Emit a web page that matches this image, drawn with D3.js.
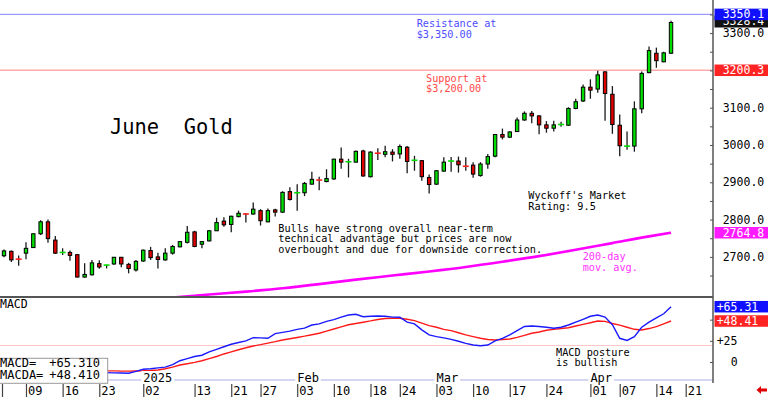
<!DOCTYPE html>
<html><head><meta charset="utf-8">
<script src="https://cdn.jsdelivr.net/npm/d3@7"></script>
<style>
html,body{margin:0;padding:0;background:#fff;}
svg{display:block;}
text{font-family:"DejaVu Sans Mono",monospace;}
</style></head><body>
<svg id="c" width="768" height="397"></svg>
<script>
// ---------------- DATA ----------------
const dates = [
 "2024-12-04","2024-12-05","2024-12-06","2024-12-09","2024-12-10","2024-12-11","2024-12-12","2024-12-13",
 "2024-12-16","2024-12-17","2024-12-18","2024-12-19","2024-12-20","2024-12-23","2024-12-24","2024-12-26",
 "2024-12-27","2024-12-30","2024-12-31",
 "2025-01-02","2025-01-03","2025-01-06","2025-01-07","2025-01-08","2025-01-09","2025-01-10","2025-01-13",
 "2025-01-14","2025-01-15","2025-01-16","2025-01-17","2025-01-21","2025-01-22","2025-01-23","2025-01-24",
 "2025-01-27","2025-01-28","2025-01-29","2025-01-30","2025-01-31",
 "2025-02-03","2025-02-04","2025-02-05","2025-02-06","2025-02-07","2025-02-10","2025-02-11","2025-02-12",
 "2025-02-13","2025-02-14","2025-02-18","2025-02-19","2025-02-20","2025-02-21","2025-02-24","2025-02-25",
 "2025-02-26","2025-02-27","2025-02-28",
 "2025-03-03","2025-03-04","2025-03-05","2025-03-06","2025-03-07","2025-03-10","2025-03-11","2025-03-12",
 "2025-03-13","2025-03-14","2025-03-17","2025-03-18","2025-03-19","2025-03-20","2025-03-21","2025-03-24",
 "2025-03-25","2025-03-26","2025-03-27","2025-03-28","2025-03-31",
 "2025-04-01","2025-04-02","2025-04-03","2025-04-04","2025-04-07","2025-04-08","2025-04-09","2025-04-10",
 "2025-04-11","2025-04-14","2025-04-15","2025-04-16"];
const futureDates = ["2025-04-17","2025-04-21"];

const open = [2703,2715,2696,2710,2725,2762,2794,2745,2710,2712,
 2706,2646,2652,2682,2676,2681,2699,2680,2665,2689,
 2717,2700,2692,2710,2727,2739,2767,2734,2743,2770,
 2796,2787,2808,2817,2815,2824,2794,2826,2820,2875,
 2869,2872,2895,2908,2902,2909,2962,2953,2954,2984,
 2915,2981,2975,2981,2976,2994,2957,2958,2913,2895,
 2930,2955,2957,2946,2946,2918,2949,2970,3028,3021,
 3036,3067,3085,3078,3054,3045,3053,3053,3098,3118,
 3155,3150,3196,3136,3053,2995,2997,3097,3194,3246,
 3223,3246];
const high = [2720,2717,2704,2739,2763,2798,2800,2756,2723,2717,
 2708,2683,2692,2691,2679,2700,2700,2684,2692,2720,
 2727,2711,2723,2732,2742,2783,2770,2742,2772,2805,
 2806,2810,2824,2818,2846,2828,2830,2829,2876,2887,
 2895,2901,2928,2915,2935,2963,2993,2963,2985,2987,
 2983,2991,2998,2989,3001,2997,2971,2960,2921,2933,
 2967,2968,2969,2967,2954,2954,2976,3029,3044,3037,
 3074,3090,3091,3080,3064,3065,3062,3101,3124,3162,
 3176,3199,3198,3158,3082,3036,3117,3197,3264,3261,
 3250,3333];
const low = [2699,2686,2676,2694,2724,2759,2738,2708,2705,2690,
 2645,2644,2650,2668,2669,2679,2672,2656,2661,2687,
 2692,2669,2690,2706,2726,2736,2726,2723,2741,2770,
 2781,2766,2806,2792,2813,2784,2793,2808,2818,2851,
 2824,2863,2894,2879,2900,2907,2936,2913,2953,2915,
 2913,2960,2967,2956,2963,2924,2931,2904,2870,2893,
 2928,2928,2926,2931,2912,2915,2936,2967,3015,3019,
 3035,3065,3058,3029,3033,3036,3049,3051,3096,3115,
 3124,3140,3065,3030,2970,2987,2982,3085,3192,3207,
 3222,3244];
const close = [2716,2692,2694,2723,2762,2794,2749,2710,2712,2704,
 2646,2653,2684,2673,2678,2699,2681,2669,2688,2718,
 2698,2693,2710,2728,2741,2766,2728,2741,2770,2792,
 2786,2809,2817,2815,2828,2797,2824,2820,2873,2854,
 2872,2897,2908,2906,2910,2962,2954,2955,2983,2917,
 2981,2978,2982,2975,2996,2956,2959,2915,2894,2931,
 2954,2957,2947,2943,2922,2949,2969,3028,3021,3035,
 3067,3085,3078,3054,3045,3054,3055,3098,3116,3155,
 3147,3188,3138,3055,2998,2997,3097,3192,3253,3226,
 3247,3328.4];

const maDates = ["2024-12-31","2025-01-08","2025-01-15","2025-01-23","2025-01-30","2025-02-06","2025-02-13",
 "2025-02-21","2025-02-28","2025-03-07","2025-03-14","2025-03-21","2025-03-28","2025-04-04","2025-04-11","2025-04-16"];
const ma200 = [2583,2591,2599,2607,2616,2627,2639,2650,2661,2673,2687,2702,2719,2737,2755,2764.8];

const macd = [-5,-6,-7,-6,-4,-2,-3,-5,-7,-8,
 -11,-12,-12,-12.5,-12.6,-12.8,-13,-13.3,-11,-8.6,
 -8,-7,-6,-3,1.5,4,6.5,8,12,15,
 18,21,23,25,28.7,28.5,28,33.5,35,36.5,
 38.5,40,43.7,45,48,50,53,55.5,56.3,53.5,
 54,54.3,54,53,52.8,47,45,38,32,30,
 28.5,26.8,24.5,22,20.1,19.2,20,25,28,32,
 37,42,42.5,42,41,39.8,41,43.7,47,50.4,
 54,55.5,53,44,28,25.5,30,41,47,52,
 57,65.31];
const macdSignal = [-2,-3,-4,-4.5,-4.5,-4,-4,-4.5,-5,-6,
 -7,-8,-9,-9.8,-10.3,-10.5,-10.8,-10.8,-10.6,-10.4,
 -10,-9.4,-8,-6,-3.5,-2,-0.5,1.5,4,6.5,
 9.5,12,14.5,16.8,18.9,20.5,22.3,24,26,27.5,
 29,30.5,32.2,34,36.5,39,41.5,44,45.5,47,
 48.5,50.2,51.4,51.6,51.6,50.5,48.8,46,43,41,
 38.5,37,34.5,32,29.9,28,26.5,26,26.5,27.2,
 29,31.5,33.9,35.5,37.5,38.5,39.5,40.5,42.5,44.5,
 46.4,48.4,48,45.5,43.5,41,38.6,37.8,39.5,41.7,
 45,48.41];

const tickDates = ["2024-12-09","2024-12-16","2024-12-23","2025-01-02","2025-01-13","2025-01-21","2025-01-27",
 "2025-02-03","2025-02-10","2025-02-18","2025-02-24","2025-03-03","2025-03-10","2025-03-17","2025-03-24",
 "2025-04-01","2025-04-07","2025-04-14","2025-04-21"];
const tickLabels = ["09","16","23","02","13","21","27","03","10","18","24","03","10","17","24","01","07","14","21"];
const monthDates = ["2025-01-02","2025-02-03","2025-03-03","2025-04-01"];
const monthLabels = ["2025","Feb","Mar","Apr"];
const priceTicks = [2650,2700,2750,2800,2850,2900,2950,3000,3050,3100,3150,3200,3250,3300,3350];
const macdTicks = [0,25,50];
const resistance = 3350.1, support = 3200.3;
const lastClose = 3328.4, lastMA = 2764.8, lastMacd = 65.31, lastSignal = 48.41;
const macdRefLevel = 19.5;

// ---------------- CHART ----------------
const svg = d3.select("#c");
const AX = 713;
const x = d3.scalePoint().domain(dates.concat(futureDates)).range([4, 4 + 93 * 7.33]);
const y = d3.scaleLinear().domain([2592.5, 3388.7]).range([297, 0]);
const ym = d3.scaleLinear().domain([0, 65.31]).range([362, 306.7]);

const defs = svg.append("defs");
defs.append("clipPath").attr("id","clipP").append("rect").attr("x",0).attr("y",0).attr("width",AX).attr("height",296);
defs.append("clipPath").attr("id","clipM").append("rect").attr("x",0).attr("y",298).attr("width",AX).attr("height",82);

svg.append("rect").attr("width",768).attr("height",397).attr("fill","#fff");

// resistance / support lines
svg.append("line").attr("x1",0).attr("x2",AX).attr("y1",y(resistance)).attr("y2",y(resistance))
  .attr("stroke","#9a9aff").attr("stroke-width",1.4);
svg.append("line").attr("x1",0).attr("x2",AX).attr("y1",y(support)).attr("y2",y(support))
  .attr("stroke","#ffaaaa").attr("stroke-width",1.4);

const pg = svg.append("g").attr("clip-path","url(#clipP)");
// 200-day MA
pg.append("path").datum(maDates.map((d,i)=>[d,ma200[i]]))
  .attr("d", d3.line().x(d=>x(d[0])).y(d=>y(d[1])).curve(d3.curveMonotoneX))
  .attr("fill","none").attr("stroke","#ff00ff").attr("stroke-width",2.6);

// candles
const data = dates.map((d,i)=>({d, o:open[i], h:high[i], l:low[i], c:close[i]}));
pg.selectAll("line.wick").data(data).join("line").attr("class","wick")
  .attr("x1",d=>x(d.d)).attr("x2",d=>x(d.d)).attr("y1",d=>y(d.h)).attr("y2",d=>y(d.l))
  .attr("stroke","#1a1a1a").attr("stroke-width",1.3);
pg.selectAll("rect.body").data(data.filter(d=>Math.abs(d.o-d.c)>3.5)).join("rect").attr("class","body")
  .attr("x",d=>x(d.d)-1.7).attr("width",3.4)
  .attr("y",d=>y(Math.max(d.o,d.c))).attr("height",d=>Math.abs(y(d.o)-y(d.c)))
  .attr("fill",d=>d.c>d.o?"#00dd00":"#e00000").attr("stroke","#000").attr("stroke-width",1);
pg.selectAll("line.doji").data(data.filter(d=>Math.abs(d.o-d.c)<=3.5)).join("line").attr("class","doji")
  .attr("x1",d=>x(d.d)-3).attr("x2",d=>x(d.d)+3).attr("y1",d=>y(d.c)).attr("y2",d=>y(d.c))
  .attr("stroke",d=>d.c>=d.o?"#00dd00":"#ff2020").attr("stroke-width",1.6);

// annotations
function txt(x0, ys, lines, size, fill){
  lines.forEach((t,i)=>svg.append("text").attr("x",x0).attr("y",ys[i]).attr("font-size",size)
    .attr("fill",fill).attr("xml:space","preserve").style("white-space","pre").text(t));
}
txt(110,[134],["June  Gold"],"20.4px","#000");
txt(416.7,[27.3,37.8],["Resistance at","$3,350.00"],"10.2px","#4d4dff");
txt(426,[81.5,92],["Support at","$3,200.00"],"10.2px","#ff4a4a");
txt(528.3,[199,209.5],["Wyckoff's Market","Rating: 9.5"],"10.2px","#000");
txt(278.3,[231.5,242,252.5],["Bulls have strong overall near-term","technical advantage but prices are now","overbought and due for downside correction."],"10.2px","#000");
txt(582.7,[260,270.7],["200-day","mov. avg."],"10.2px","#ff33ff");

// separator
svg.append("line").attr("x1",0).attr("x2",AX).attr("y1",297).attr("y2",297).attr("stroke","#555").attr("stroke-width",2);

// MACD panel
svg.append("line").attr("x1",0).attr("x2",AX).attr("y1",ym(macdRefLevel)).attr("y2",ym(macdRefLevel))
  .attr("stroke","#ffc8c8").attr("stroke-width",1);
svg.append("line").attr("x1",0).attr("x2",AX).attr("y1",380).attr("y2",380).attr("stroke","#c8c8f0").attr("stroke-width",1.5);
const mg = svg.append("g").attr("clip-path","url(#clipM)");
const mline = d3.line().x((d,i)=>x(dates[i])).y(d=>ym(d));
mg.append("path").datum(macdSignal).attr("d",mline).attr("fill","none").attr("stroke","#ff1a1a").attr("stroke-width",1.4);
mg.append("path").datum(macd).attr("d",mline).attr("fill","none").attr("stroke","#1a1aff").attr("stroke-width",1.4);

txt(0,[308.3],["MACD"],"11.5px","#000");
txt(556,[355.5,366],["MACD posture","is bullish"],"10.2px","#000");

// month labels on lavender line
monthDates.forEach((d,i)=>{
  const t = svg.append("text").attr("x",x(d)).attr("y",381.7).attr("font-size","12px").attr("fill","#000").text(monthLabels[i]);
  const w = t.node().getComputedTextLength();
  svg.insert("rect", function(){return t.node();}).attr("x",x(d)-2).attr("y",371).attr("width",w+4).attr("height",11).attr("fill","#fff");
});

// value box
svg.append("rect").attr("x",-1).attr("y",358.3).attr("width",108.7).attr("height",25).attr("fill","#fff").attr("stroke","#999").attr("stroke-width",1);
txt(0,[366.7,379.3],["MACD=","MACDA="],"12px","#000");
txt(49.3,[366.7,379.3],["+"+lastMacd.toFixed(3),"+"+lastSignal.toFixed(3)],"12px","#000");

// right axis
svg.append("line").attr("x1",AX).attr("x2",AX).attr("y1",0).attr("y2",383).attr("stroke","#555").attr("stroke-width",1.5);
const pa = svg.append("g").attr("transform",`translate(${AX},0)`)
  .call(d3.axisRight(y).tickValues(priceTicks).tickSize(-3).tickSizeOuter(0).tickPadding(9.7)
    .tickFormat(d=> d%100 ? "" : d.toFixed(1)));
pa.select(".domain").remove();
pa.selectAll("line").attr("stroke","#555");
pa.selectAll("text").attr("font-family","DejaVu Sans Mono").attr("font-size","11.5px").attr("fill","#000");

const ma = svg.append("g").attr("transform",`translate(${AX},0)`)
  .call(d3.axisRight(ym).tickValues(macdTicks).tickSize(-3).tickSizeOuter(0).tickFormat(""));
ma.select(".domain").remove();
ma.selectAll("line").attr("stroke","#555");
txt(716.7,[ym(25)+4],["+25"],"11.5px","#000");
txt(730.8,[ym(0)+4],["0"],"11.5px","#000");

// value tags
function tag(cy, label, bg, tx, h){
  svg.append("rect").attr("x",714.5).attr("y",cy-h/2).attr("width",54).attr("height",h).attr("fill",bg);
  svg.append("text").attr("x",tx).attr("y",cy+4).attr("font-size","11.5px").attr("fill","#fff").text(label);
}
tag(y(lastClose)-1, lastClose.toFixed(1), "#111", 722.7, 12);
tag(y(resistance), resistance.toFixed(1), "#1010ff", 722.7, 11.5);
tag(y(support), support.toFixed(1), "#ff2424", 722.7, 11.5);
tag(y(lastMA), lastMA.toFixed(1), "#ff1aff", 722.7, 11.5);
tag(ym(lastMacd), "+"+lastMacd.toFixed(2), "#1010ff", 716.7, 11.5);
tag(ym(lastSignal), "+"+lastSignal.toFixed(2), "#ff2424", 716.7, 11.5);

// bottom axis
const ba = svg.append("g").attr("transform","translate(0,384)")
  .call(d3.axisBottom(x).tickValues(tickDates).tickSize(13).tickSizeOuter(0).tickFormat((d,i)=>tickLabels[i]));
ba.select(".domain").remove();
ba.selectAll("line").attr("stroke","#444").attr("stroke-width",1.2);
ba.selectAll("text").attr("font-family","Liberation Sans").attr("font-size","12px").attr("fill","#000")
  .attr("text-anchor","start").attr("x",1.5).attr("y",0).attr("dy","11");
svg.append("line").attr("x1",2.5).attr("x2",2.5).attr("y1",384).attr("y2",397).attr("stroke","#444").attr("stroke-width",1.2);

// red arrow
svg.append("path").attr("d","M756.5,390 L761,386 L761,388.5 L767,388.5 L767,391.5 L761,391.5 L761,394 Z").attr("fill","#e00000");
</script>
</body></html>
